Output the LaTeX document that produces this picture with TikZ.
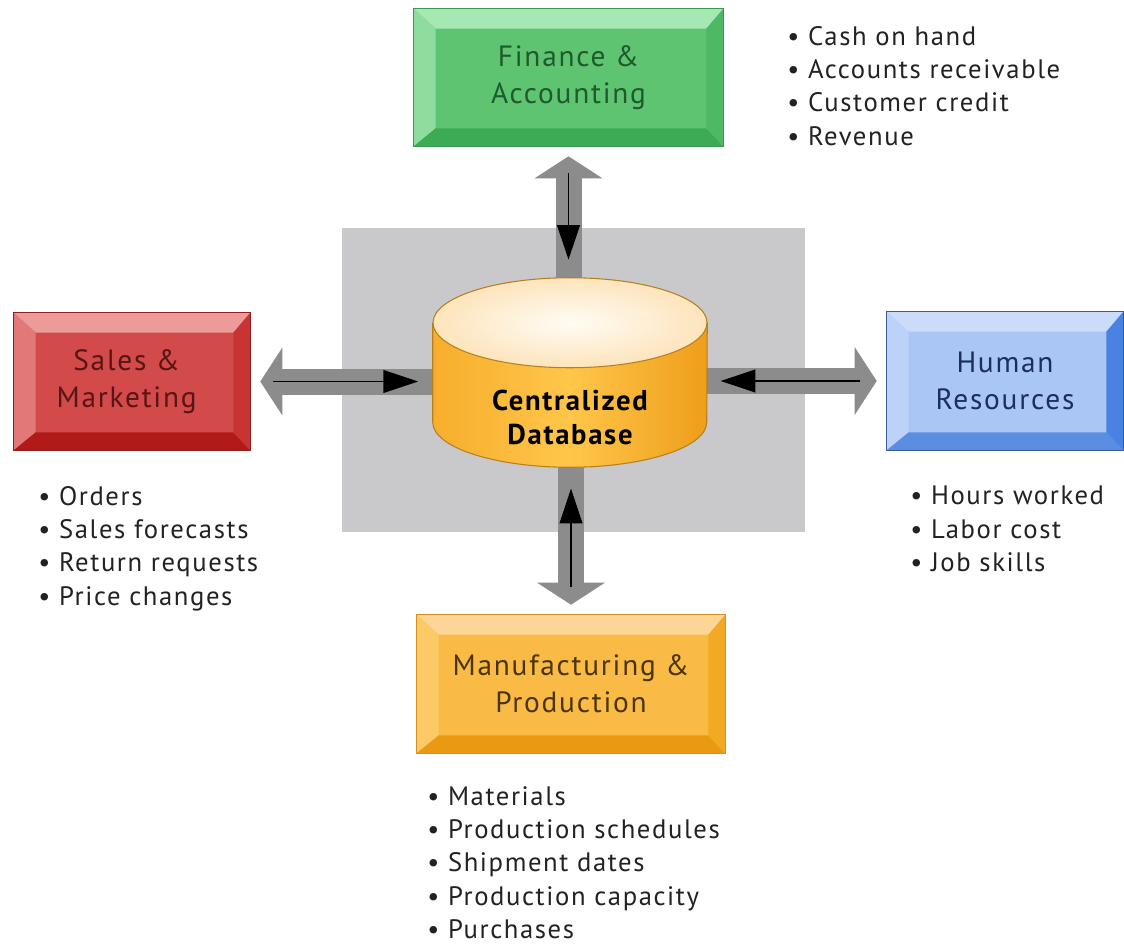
\documentclass[tikz,border=0pt]{standalone}
\usepackage{fontspec}
\setmainfont{PT Sans}[LetterSpace=6]
\usetikzlibrary{arrows.meta,calc}
\definecolor{bggray}{HTML}{C9C9CB}
\definecolor{arrowgray}{HTML}{8C8C8C}
\definecolor{finface}{HTML}{5EC472}\definecolor{fintop}{HTML}{A6E8B2}\definecolor{finleft}{HTML}{8FDC9E}
\definecolor{finbot}{HTML}{3DAA55}\definecolor{finright}{HTML}{4DB866}\definecolor{finborder}{HTML}{3A9A50}\definecolor{fintext}{HTML}{1F5A2C}
\definecolor{salface}{HTML}{D24A4A}\definecolor{saltop}{HTML}{EC9A9A}\definecolor{salleft}{HTML}{E27878}
\definecolor{salbot}{HTML}{B21A1A}\definecolor{salright}{HTML}{C83434}\definecolor{salborder}{HTML}{8A2020}\definecolor{saltext}{HTML}{5A1414}
\definecolor{hrface}{HTML}{A9C6F5}\definecolor{hrtop}{HTML}{CADCFA}\definecolor{hrleft}{HTML}{BCD2F8}
\definecolor{hrbot}{HTML}{5B8DE2}\definecolor{hrright}{HTML}{4A82E4}\definecolor{hrborder}{HTML}{3A5C9C}\definecolor{hrtext}{HTML}{1C2E5C}
\definecolor{mface}{HTML}{F9BB45}\definecolor{mtop}{HTML}{FDD596}\definecolor{mleft}{HTML}{FBC965}
\definecolor{mbot}{HTML}{EA9A12}\definecolor{mright}{HTML}{F2AA25}\definecolor{mborder}{HTML}{D89020}\definecolor{mtext}{HTML}{4A3408}
\definecolor{dbA}{HTML}{F7AE2C}\definecolor{dbB}{HTML}{FFC64A}\definecolor{dbC}{HTML}{EE9E1A}
\definecolor{dbtopin}{HTML}{FFFCF4}\definecolor{dbtopout}{HTML}{FDE4BC}\definecolor{dbline}{HTML}{B7801E}
\definecolor{listtext}{HTML}{222222}
\newcommand\bevelfaces[6]{%
  \fill[#2] (#1.north west) -- (#1.north east) -- ($(#1.north east)+(-17,20)$) -- ($(#1.north west)+(22,20)$) -- cycle;
  \fill[#3] (#1.north west) -- ($(#1.north west)+(22,20)$) -- ($(#1.south west)+(22,-18)$) -- (#1.south west) -- cycle;
  \fill[#4] (#1.south west) -- ($(#1.south west)+(22,-18)$) -- ($(#1.south east)+(-17,-18)$) -- (#1.south east) -- cycle;
  \fill[#5] (#1.north east) -- (#1.south east) -- ($(#1.south east)+(-17,-18)$) -- ($(#1.north east)+(-17,20)$) -- cycle;
  \draw[#6, line width=0.8pt] (#1.north west) rectangle (#1.south east);
}
\tikzset{
  dept/.style={rectangle, inner sep=0pt, align=center, font=\fontsize{22}{28}\selectfont},
  itemlist/.style={anchor=north west, inner sep=0pt, align=left, text=listtext, font=\fontsize{20}{25}\selectfont},
  grayarrow/.style={draw=arrowgray, line width=19.5pt, shorten >=7.5pt, -{Triangle[width=50pt,length=16.5pt]}},
  blackarrow/.style={draw=black, line width=1.4pt, -{Triangle[width=17pt,length=26pt]}}
}
\begin{document}
\begin{tikzpicture}[x=0.75pt,y=-0.75pt]
\useasboundingbox (0,0) rectangle (1124,946);
\fill[white] (0,0) rectangle (1124,946);
% grey backdrop
\node[fill=bggray, minimum width=463*0.75pt, minimum height=304*0.75pt, inner sep=0pt] (bg) at (573.5,380) {};
% department boxes
\node[dept, fill=finface, text=fintext, minimum width=309*0.75pt, minimum height=137*0.75pt] (fin) at (568.5,77.5) {Finance \&\\Accounting};
\node[dept, fill=salface, text=saltext, minimum width=236*0.75pt, minimum height=137*0.75pt] (sales) at (132,381.5) {\hspace*{-8pt}Sales \&\\\hspace*{-8pt}Marketing};
\node[dept, fill=hrface, text=hrtext, minimum width=236*0.75pt, minimum height=138*0.75pt] (hr) at (1005,381) {Human\\Resources};
\node[dept, fill=mface, text=mtext, minimum width=308*0.75pt, minimum height=138*0.75pt] (manu) at (571,684) {Manufacturing \&\\Production};
\bevelfaces{fin}{fintop}{finleft}{finbot}{finright}{finborder}
\bevelfaces{sales}{saltop}{salleft}{salbot}{salright}{salborder}
\bevelfaces{hr}{hrtop}{hrleft}{hrbot}{hrright}{hrborder}
\bevelfaces{manu}{mtop}{mleft}{mbot}{mright}{mborder}
% database placeholder
\node[inner sep=0pt, minimum width=274*0.75pt, minimum height=189*0.75pt] (db) at (570,372.5) {};
% arrows
\draw[grayarrow] (fin.south |- db.north) -- (fin.south);
\draw[grayarrow] (db.west |- sales.east) -- (sales.east);
\draw[grayarrow] (db.east |- hr.west) -- (hr.west);
\draw[grayarrow] (manu.north |- db.south) -- (manu.north);
\draw[blackarrow, shorten <=20pt, shorten >=13.5pt] (fin.south) -- (fin.south |- db.north);
\draw[blackarrow, shorten <=17pt, shorten >=11pt] (sales.east) -- (db.west |- sales.east);
\draw[blackarrow, shorten <=20pt, shorten >=10pt] (hr.west) -- (db.east |- hr.west);
\draw[blackarrow, shorten <=21pt, shorten >=16pt] (manu.north) -- (manu.north |- db.south);
% cylinder
\path[left color=dbA, right color=dbC, middle color=dbB]
  ($(db.north west)+(0,45)$) -- ($(db.south west)+(0,-45)$)
  arc[start angle=180, end angle=360, x radius=102.75pt, y radius=33.75pt]
  -- ($(db.north east)+(0,45)$) -- cycle;
\draw[dbline, line width=0.8pt]
  ($(db.north west)+(0,45)$) -- ($(db.south west)+(0,-45)$)
  arc[start angle=180, end angle=360, x radius=102.75pt, y radius=33.75pt]
  -- ($(db.north east)+(0,45)$);
\draw[dbline, line width=0.8pt, inner color=dbtopin, outer color=dbtopout]
  ($(db.north)+(0,45)$) ellipse[x radius=102.75pt, y radius=33.75pt];
\node[font=\bfseries\fontsize{21.5}{26}\selectfont, align=center, text=black, inner sep=0pt] (dbtext) at ($(db.center)+(0,45)$) {Centralized\\Database};
% lists
\node[itemlist] (finlist) at (787,26) {• Cash on hand\\• Accounts receivable\\• Customer credit\\• Revenue};
\node[itemlist] (saleslist) at (38,486) {• Orders\\• Sales forecasts\\• Return requests\\• Price changes};
\node[itemlist] (hrlist) at (910,486) {• Hours worked\\• Labor cost\\• Job skills};
\node[itemlist] (manulist) at (427,786) {• Materials\\• Production schedules\\• Shipment dates\\• Production capacity\\• Purchases};
\end{tikzpicture}
\end{document}
